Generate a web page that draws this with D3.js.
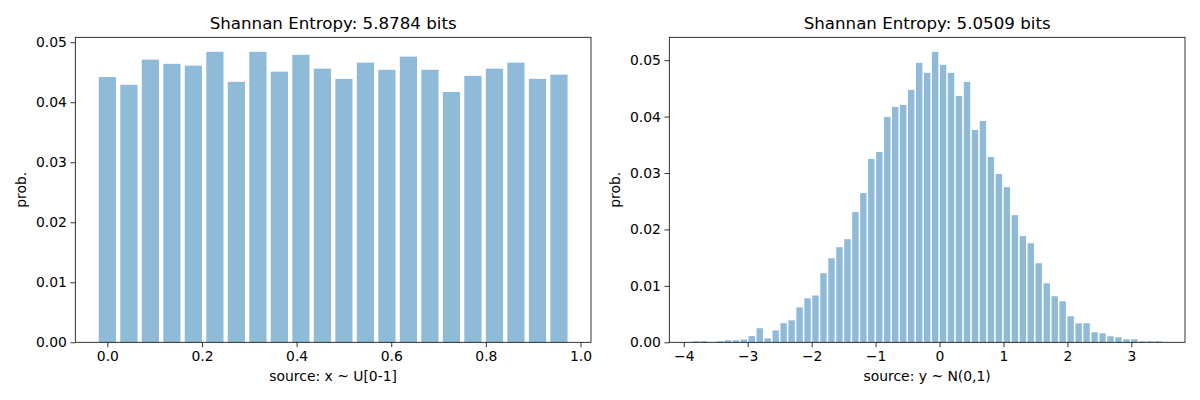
<!DOCTYPE html>
<html>
<head>
<meta charset="utf-8">
<script src="https://cdn.jsdelivr.net/npm/d3@7"></script>
<style>
  html, body { margin: 0; padding: 0; background: #fff; }
  svg { display: block; }
  text { font-family: "DejaVu Sans", sans-serif; fill: #000; }
</style>
</head>
<body>
<svg id="chart" width="1200" height="400"></svg>
<script>
// ---- Data ----
const leftTitle = "Shannan Entropy: 5.8784 bits";
const rightTitle = "Shannan Entropy: 5.0509 bits";
const leftXLabel = "source: x ~ U[0-1]";
const rightXLabel = "source: y ~ N(0,1)";
const yLabel = "prob.";

const uniformX = [0, 0.0455, 0.0909, 0.1364, 0.1818, 0.2273, 0.2727, 0.3182, 0.3636, 0.4091, 0.4545,
  0.5, 0.5455, 0.5909, 0.6364, 0.6818, 0.7273, 0.7727, 0.8182, 0.8636, 0.9091, 0.9545];
const uniformP = [0.0442, 0.0429, 0.0471, 0.0464, 0.0461, 0.0484, 0.0434, 0.0484, 0.0451, 0.0479, 0.0456,
  0.0439, 0.0466, 0.0454, 0.0476, 0.0454, 0.0417, 0.0444, 0.0456, 0.0466, 0.0439, 0.0446];
const uniformBinWidth = 0.0455;

const normalX = [-3.810, -3.685, -3.561, -3.436, -3.311, -3.187, -3.062, -2.937, -2.812, -2.688,
  -2.563, -2.438, -2.314, -2.189, -2.064, -1.940, -1.815, -1.690, -1.565, -1.441,
  -1.316, -1.191, -1.067, -0.942, -0.817, -0.693, -0.568, -0.443, -0.318, -0.194,
  -0.069, 0.056, 0.180, 0.305, 0.430, 0.555, 0.679, 0.804, 0.929, 1.053,
  1.178, 1.303, 1.427, 1.552, 1.677, 1.802, 1.926, 2.051, 2.176, 2.300,
  2.425, 2.550, 2.674, 2.799, 2.924, 3.049, 3.173, 3.298, 3.423];
const normalP = [0.0002, 0.0002, 0, 0.0002, 0.00035, 0.00035, 0.0005, 0.0011, 0.0025, 0.0007,
  0.0021, 0.0034, 0.0039, 0.0062, 0.0078, 0.0083, 0.01225, 0.0149, 0.01686, 0.01828,
  0.02308, 0.02645, 0.03249, 0.03373, 0.03994, 0.04172, 0.04207, 0.04473, 0.04953, 0.04775,
  0.05148, 0.04917, 0.04775, 0.04367, 0.04615, 0.03763, 0.03923, 0.03284, 0.02982, 0.02751,
  0.02254, 0.01882, 0.01757, 0.01402, 0.01047, 0.00817, 0.00728, 0.00462, 0.00337, 0.00337,
  0.00178, 0.0016, 0.00107, 0.00089, 0.00053, 0.00053, 0.00018, 0.00018, 0.00018];
const normalBinWidth = 0.1247;

const yTicks = [0, 0.01, 0.02, 0.03, 0.04, 0.05];
const leftXTicks = [0, 0.2, 0.4, 0.6, 0.8, 1.0];
const rightXTicks = [-4, -3, -2, -1, 0, 1, 2, 3];

// ---- Drawing ----
const svg = d3.select("#chart");
const barColor = "#1f77b4";

function panel(opts) {
  const { left, top, width, height, xs, ps, binW, title, xLabel, xTicks, xFmt } = opts;
  const g = svg.append("g").attr("transform", `translate(${left},${top})`);
  const w = binW * 0.8;
  const x0 = d3.min(xs) - w / 2, x1 = d3.max(xs) + w / 2;
  const mx = (x1 - x0) * 0.05;
  const x = d3.scaleLinear().domain([x0 - mx, x1 + mx]).range([0, width]);
  const ymax = d3.max(ps) * 1.05;
  const y = d3.scaleLinear().domain([0, ymax]).range([height, 0]);

  const data = xs.map((v, i) => ({ x: v, p: ps[i] }));
  g.selectAll("rect.bar").data(data).enter().append("rect")
    .attr("class", "bar")
    .attr("x", d => x(d.x - w / 2))
    .attr("width", d => x(d.x + w / 2) - x(d.x - w / 2))
    .attr("y", d => y(d.p))
    .attr("height", d => y(0) - y(d.p))
    .attr("fill", barColor)
    .attr("fill-opacity", 0.5);

  // frame
  g.append("rect").attr("x", 0).attr("y", 0).attr("width", width).attr("height", height)
    .attr("fill", "none").attr("stroke", "#000").attr("stroke-width", 0.8);

  const xAxis = d3.axisBottom(x).tickValues(xTicks).tickFormat(xFmt).tickSize(4.86).tickPadding(3.5);
  const gx = g.append("g").attr("transform", `translate(0,${height})`).call(xAxis);
  const yAxis = d3.axisLeft(y).tickValues(yTicks).tickFormat(d3.format(".2f")).tickSize(4.86).tickPadding(3.5);
  const gy = g.append("g").call(yAxis);
  [gx, gy].forEach(a => {
    a.select(".domain").remove();
    a.selectAll(".tick line").attr("stroke", "#000").attr("stroke-width", 0.8);
    a.selectAll(".tick text").attr("font-size", "13.9px").attr("font-family", "DejaVu Sans").attr("fill", "#000");
  });

  g.append("text").attr("x", width / 2).attr("y", -8.5)
    .attr("text-anchor", "middle").attr("font-size", "16.67px").text(title);
  g.append("text").attr("x", width / 2).attr("y", height + 39)
    .attr("text-anchor", "middle").attr("font-size", "13.9px").text(xLabel);
  g.append("text").attr("transform", `translate(${-49},${height / 2}) rotate(-90)`)
    .attr("text-anchor", "middle").attr("font-size", "13.9px").text(yLabel);
}

panel({ left: 75.3, top: 37.3, width: 515.7, height: 305, xs: uniformX, ps: uniformP, binW: uniformBinWidth,
  title: leftTitle, xLabel: leftXLabel, xTicks: leftXTicks, xFmt: d3.format(".1f") });
panel({ left: 669.3, top: 37.3, width: 515.7, height: 305, xs: normalX, ps: normalP, binW: normalBinWidth,
  title: rightTitle, xLabel: rightXLabel, xTicks: rightXTicks, xFmt: d3.format("d") });
</script>
</body>
</html>
